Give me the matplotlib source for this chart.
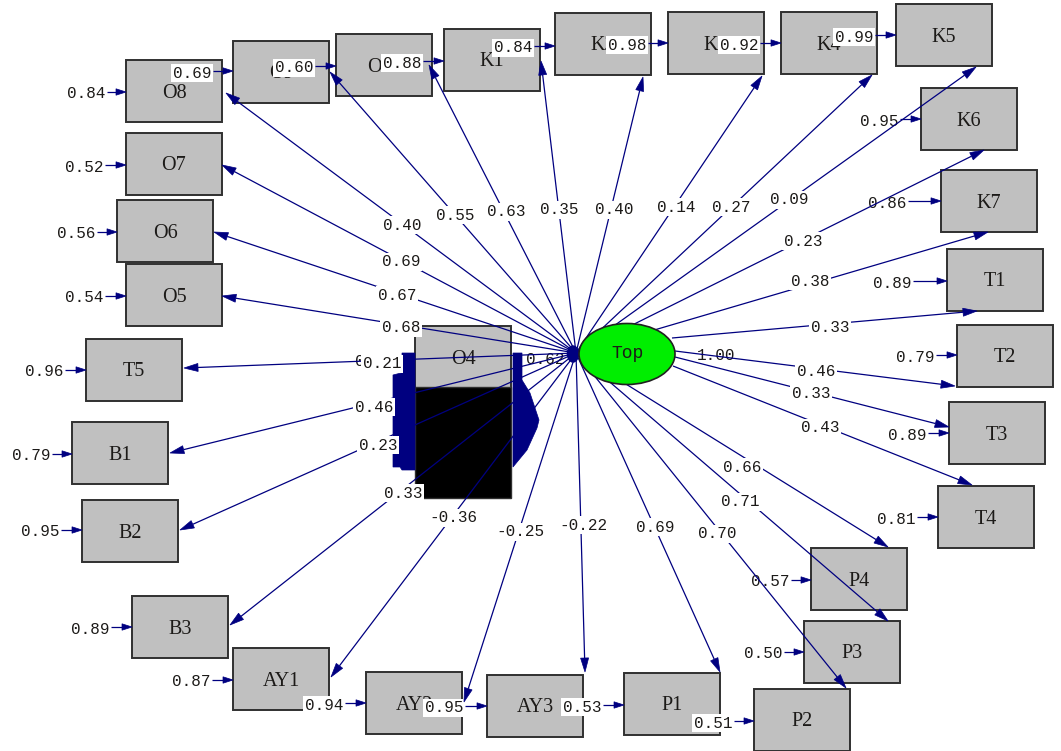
import numpy as np
import matplotlib
matplotlib.use("Agg")
import matplotlib.pyplot as plt
from matplotlib.patches import Polygon, Rectangle, Ellipse

# ---- model values -------------------------------------------------------
indicators = ['O8', 'O7', 'O6', 'O5', 'T5', 'B1', 'B2', 'B3', 'AY1', 'AY2',
              'AY3', 'P1', 'P2', 'P3', 'P4', 'T4', 'T3', 'T2', 'T1', 'K7',
              'K6', 'K5', 'K4', 'K3', 'K2', 'K1', 'O10', 'O9']
loadings = [0.40, 0.69, 0.67, 0.68, 0.21, 0.46, 0.23, 0.33, -0.36, -0.25,
            -0.22, 0.69, 0.70, 0.71, 0.66, 0.43, 0.33, 0.46, 0.33, 0.38,
            0.23, 0.09, 0.27, 0.14, 0.40, 0.35, 0.63, 0.55]
error_vars = [0.84, 0.52, 0.56, 0.54, 0.96, 0.79, 0.95, 0.89, 0.87, 0.94,
              0.95, 0.53, 0.51, 0.50, 0.57, 0.81, 0.89, 0.79, 0.89, 0.86,
              0.95, 0.99, 0.92, 0.98, 0.84, 0.88, 0.60, 0.69]
latent = 'Top'
o4_loading = 0.62
fixed_value = 1.00

# ---- layout (pixel space) -----------------------------------------------
BW, BH = 96, 62
box_xy = {
    'O8': (126, 60), 'O9': (233, 41), 'O10': (336, 34), 'K1': (444, 29),
    'K2': (555, 13), 'K3': (668, 12), 'K4': (781, 12), 'K5': (896, 4),
    'K6': (921, 88), 'K7': (941, 170), 'T1': (947, 249), 'T2': (957, 325),
    'T3': (949, 402), 'T4': (938, 486), 'P4': (811, 548), 'P3': (804, 621),
    'P2': (754, 689), 'P1': (624, 673), 'AY3': (487, 675), 'AY2': (366, 672),
    'AY1': (233, 648), 'B3': (132, 596), 'B2': (82, 500), 'B1': (72, 422),
    'T5': (86, 339), 'O5': (126, 264), 'O6': (117, 200), 'O7': (126, 133),
}
o4_xy = (415, 326)

hub = (576, 353)
ellipse_c = (627, 354)
# paths leaving from the right side of the ellipse
right_starts = {'T1': (672, 338), 'T2': (675, 351), 'T3': (675, 357), 'T4': (673, 366)}

path_tip = {
    'O8': (226, 93), 'O7': (222, 165), 'O6': (214, 232), 'O5': (222, 296),
    'T5': (184, 368), 'B1': (170, 453), 'B2': (180, 530), 'B3': (230, 625),
    'AY1': (331, 677), 'AY2': (464, 702), 'AY3': (585, 672), 'P1': (720, 672),
    'P2': (846, 688), 'P3': (888, 621), 'P4': (888, 547), 'T4': (972, 485),
    'T3': (949, 427), 'T2': (955, 386), 'T1': (977, 311), 'K7': (988, 232),
    'K6': (984, 150), 'K5': (976, 67), 'K4': (872, 75), 'K3': (762, 76),
    'K2': (643, 77), 'K1': (541, 61), 'O10': (429, 65), 'O9': (330, 72),
}
path_label_xy = {
    'O8': (402, 225), 'O7': (401, 262), 'O6': (397, 295), 'O5': (401, 328),
    'T5': (382, 364), 'B1': (374, 407), 'B2': (378, 445), 'B3': (403, 493),
    'AY1': (453, 518), 'AY2': (520, 532), 'AY3': (583, 525), 'P1': (655, 527),
    'P2': (717, 534), 'P3': (740, 502), 'P4': (742, 467), 'T4': (820, 428),
    'T3': (811, 394), 'T2': (816, 372), 'T1': (830, 327), 'K7': (810, 281),
    'K6': (803, 241), 'K5': (789, 200), 'K4': (731, 207), 'K3': (676, 207),
    'K2': (614, 210), 'K1': (559, 210), 'O10': (506, 212), 'O9': (455, 215),
}
error_label_xy = {
    'O8': (86, 94), 'O7': (84, 167), 'O6': (76, 234), 'O5': (84, 298),
    'T5': (44, 372), 'B1': (31, 456), 'B2': (40, 532), 'B3': (90, 629),
    'AY1': (191, 682), 'AY2': (324, 705), 'AY3': (444, 708), 'P1': (582, 707),
    'P2': (713, 723), 'P3': (763, 654), 'P4': (770, 582), 'T4': (896, 519),
    'T3': (907, 435), 'T2': (915, 357), 'T1': (892, 283), 'K7': (887, 203),
    'K6': (879, 121), 'K5': (854, 37), 'K4': (739, 45), 'K3': (627, 45),
    'K2': (513, 48), 'K1': (402, 63), 'O10': (294, 68), 'O9': (192, 73),
}

NAVY = '#000080'
BOX_FC = '#c0c0c0'
BOX_EC = '#303030'
TXT = '#1c1a18'
MONO = 'Liberation Mono'
SERIF = 'Liberation Serif'
NUM_SIZE = 11.5

fig = plt.figure(figsize=(10.61, 7.51), dpi=100)
ax = fig.add_axes([0, 0, 1, 1])
ax.set_xlim(0, 1061)
ax.set_ylim(751, 0)
ax.axis('off')


def arrow(p0, p1, head_len=14, head_w=4.0, lw=0.9, z=4):
    p0 = np.asarray(p0, float)
    p1 = np.asarray(p1, float)
    d = p1 - p0
    u = d / np.hypot(*d)
    n = np.array([-u[1], u[0]])
    base = p1 - u * head_len
    ax.plot([p0[0], base[0]], [p0[1], base[1]], color=NAVY, lw=lw,
            zorder=z, solid_capstyle='butt')
    head = [p1, base + n * head_w, base - n * head_w]
    ax.add_patch(Polygon(head, closed=True, fc=NAVY, ec=NAVY, lw=0.5, zorder=z))


label_box = dict(boxstyle='square,pad=0.1', fc='white', ec='none')

# observed-variable boxes
for name, (x0, y0) in box_xy.items():
    ax.add_patch(Rectangle((x0, y0), BW, BH, fc=BOX_FC, ec=BOX_EC, lw=1.4, zorder=1))
    ax.text(x0 + BW / 2, y0 + BH / 2 + 2, name, ha='center', va='center',
            fontsize=14.5, family=SERIF, color=TXT, zorder=1.5)

# O4 box with its dark lower part and the piled-up arrowheads at its sides
ox, oy = o4_xy
ax.add_patch(Rectangle((ox, oy), BW, BH, fc=BOX_FC, ec=BOX_EC, lw=1.4, zorder=1))
ax.add_patch(Rectangle((ox, oy + BH - 1), BW, 111, fc='black', ec=BOX_EC, lw=1.0, zorder=1))
ax.text(ox + BW / 2, oy + BH / 2 + 2, 'O4', ha='center', va='center',
        fontsize=14.5, family=SERIF, color=TXT, zorder=1.5)
left_pile = [(402, 353), (415, 353), (415, 470), (402, 470), (400, 467),
             (393, 467), (393, 375), (401, 373), (402, 360)]
right_pile = [(513, 353), (522, 353), (522, 380), (530, 393), (539, 420),
              (537, 428), (527, 450), (513, 467)]
ax.add_patch(Polygon(left_pile, closed=True, fc=NAVY, ec=NAVY, lw=0.5, zorder=2))
ax.add_patch(Polygon(right_pile, closed=True, fc=NAVY, ec=NAVY, lw=0.5, zorder=2))

# labels that sit underneath the path lines
ax.text(545, 359, f'{o4_loading:.2f}', ha='center', va='center', fontsize=NUM_SIZE,
        family=MONO, color=TXT, zorder=3)
ax.text(716, 356, f'{fixed_value:.2f}', ha='center', va='center', fontsize=NUM_SIZE,
        family=MONO, color=TXT, zorder=3)
ax.text(360, 361, '0', ha='center', va='center', fontsize=NUM_SIZE,
        family=MONO, color=TXT, zorder=3)

# error variances with their short arrows
for name, ev in zip(indicators, error_vars):
    lx, ly = error_label_xy[name]
    ax.text(lx, ly, f'{ev:.2f}', ha='center', va='center', fontsize=NUM_SIZE,
            family=MONO, color=TXT, bbox=label_box, zorder=3)
    bx = box_xy[name][0]
    arrow((lx + 21, ly - 2), (bx, ly - 2), head_len=10, head_w=3.2, lw=0.9, z=4)

# factor loadings
for name, lam in zip(indicators, loadings):
    start = right_starts.get(name, hub)
    arrow(start, path_tip[name], head_len=14, head_w=4.0, lw=0.9, z=4)
    px, py = path_label_xy[name]
    ax.text(px, py, f'{lam:.2f}', ha='center', va='center', fontsize=NUM_SIZE,
            family=MONO, color=TXT, bbox=label_box, zorder=5)

# bundle of arrowheads where the loadings leave the factor
ax.add_patch(Ellipse((573, 354), 11, 16, fc=NAVY, ec=NAVY, zorder=5))

# latent factor
ax.add_patch(Ellipse(ellipse_c, 96, 61, fc='#00ee00', ec='#202020', lw=1.2, zorder=6))
ax.text(ellipse_c[0], ellipse_c[1], latent, ha='center', va='center',
        fontsize=13, family=MONO, color=TXT, zorder=7)

fig.savefig('out.png', dpi=100)
